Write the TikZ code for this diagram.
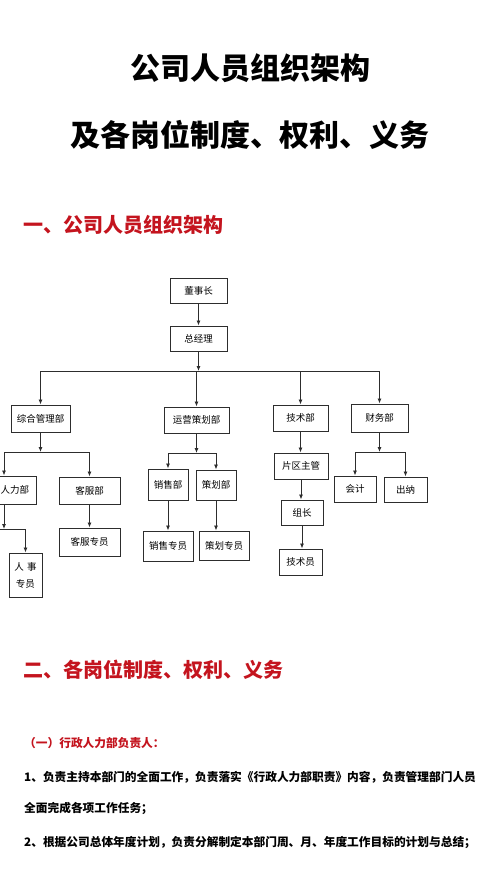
\documentclass[tikz,border=0pt]{standalone}
\usepackage{fontspec}
\setmainfont{Noto Sans CJK SC}
\usepackage{xcolor}
\usetikzlibrary{positioning,arrows.meta}
\definecolor{headred}{RGB}{196,20,30}
\definecolor{linegray}{RGB}{45,45,45}

\begin{document}
\begin{tikzpicture}[
    x=1pt, y=-1pt,
    orgbox/.style={draw=linegray, line width=1pt, fill=white, inner sep=0pt,
                   align=center, font=\fontsize{9.5}{17}\selectfont},
    arrow/.style={-{Latex[length=5pt,width=4pt]}, line width=0.8pt, linegray},
    link/.style={line width=0.8pt, linegray},
    title/.style={font=\fontsize{30}{36}\selectfont\bfseries},
    heading/.style={anchor=west, inner sep=0pt, text=headred,
                    font=\fontsize{20}{24}\selectfont\bfseries},
    bodyline/.style={anchor=west, inner sep=0pt,
                     font=\fontsize{11.7}{14}\selectfont\bfseries}
]
    \fill[white] (0,0) rectangle (500,889);
    \useasboundingbox (0,0) rectangle (500,889);

    \node[title] (title1) at (250,68) {公司人员组织架构};
    \node[title] (title2) at (250,135) {及各岗位制度、权利、义务};
    \node[heading] (sec1) at (23,225) {一、公司人员组织架构};

    % organisation chart
    \node[orgbox, minimum width=57pt, minimum height=25pt] (chair) at (198.5,290.5) {董事长};
    \node[orgbox, minimum width=57pt, minimum height=25pt, below=22pt of chair] (gm) {总经理};

    \node[orgbox, minimum width=59pt, minimum height=27pt] (zh) at (40.5,418.5) {综合管理部};
    \node[orgbox, minimum width=65pt, minimum height=26pt] (yy) at (196.5,420) {运营策划部};
    \node[orgbox, minimum width=55pt, minimum height=26pt] (tech) at (300.5,418) {技术部};
    \node[orgbox, minimum width=57pt, minimum height=28pt] (fin) at (379.5,418) {财务部};

    \node[orgbox, minimum width=42pt, minimum height=28pt] (hr) at (15,490) {人力部};
    \node[orgbox, minimum width=61pt, minimum height=27pt] (kf) at (89.5,490.5) {客服部};
    \node[orgbox, minimum width=61pt, minimum height=28pt] (kfzy) at (89.5,542) {客服专员};
    \node[orgbox, minimum width=33pt, minimum height=44pt] (rs) at (25.5,575) {人\,\,事\\专员};

    \node[orgbox, minimum width=40pt, minimum height=31pt] (xs) at (168,484.5) {销售部};
    \node[orgbox, minimum width=40pt, minimum height=30pt] (ch) at (216,485) {策划部};
    \node[orgbox, minimum width=50pt, minimum height=30pt] (xszy) at (168,546) {销售专员};
    \node[orgbox, minimum width=50pt, minimum height=29pt] (chzy) at (224,545.5) {策划专员};

    \node[orgbox, minimum width=54pt, minimum height=26pt] (pq) at (301,466) {片区主管};
    \node[orgbox, minimum width=42pt, minimum height=25pt] (zz) at (302,512.5) {组长};
    \node[orgbox, minimum width=43pt, minimum height=26pt] (jsy) at (300.5,562) {技术员};

    \node[orgbox, minimum width=42pt, minimum height=26pt] (kj) at (355,489) {会计};
    \node[orgbox, minimum width=43pt, minimum height=25pt] (cn) at (405.5,489.5) {出纳};

    \coordinate (bus0) at (0,371);
    \coordinate (bus1) at (0,452);
    \coordinate (bus2) at (0,453);
    \coordinate (bus3) at (0,452);
    \coordinate (hrin) at (4,452);
    \coordinate (hrbend) at (4,529);
    \coordinate (hrleft) at (-20,529);

    \draw[arrow] (chair) -- (gm);
    \draw[arrow] (gm.south) -- (gm.south |- bus0);
    \draw[link] (bus0 -| zh) -- (bus0 -| fin);
    \foreach \dept in {zh,yy,tech,fin}
        \draw[arrow] (bus0 -| \dept) -- (\dept.north);

    \draw[arrow] (zh.south) -- (zh.south |- bus1);
    \draw[link] (hrin) -- (bus1 -| kf);
    \draw[arrow] (hrin) -- (hrin |- hr.north);
    \draw[arrow] (bus1 -| kf) -- (kf.north);
    \draw[arrow] (kf) -- (kfzy);
    \draw[arrow] (hrin |- hr.south) -- (hrbend);
    \draw[link] (hrleft) -- (hrbend -| rs);
    \draw[arrow] (hrbend -| rs) -- (rs.north);

    \draw[arrow] (yy.south) -- (yy.south |- bus2);
    \draw[link] (bus2 -| xs) -- (bus2 -| ch);
    \draw[arrow] (bus2 -| xs) -- (xs.north);
    \draw[arrow] (bus2 -| ch) -- (ch.north);
    \draw[arrow] (xs) -- (xszy);
    \draw[arrow] (ch.south) -- (ch.south |- chzy.north);

    \draw[arrow] (tech.south) -- (tech.south |- pq.north);
    \draw[arrow] (pq.south) -- (pq.south |- zz.north);
    \draw[arrow] (zz.south) -- (zz.south |- jsy.north);

    \draw[arrow] (fin.south) -- (fin.south |- bus3);
    \draw[link] (bus3 -| kj) -- (bus3 -| cn);
    \draw[arrow] (bus3 -| kj) -- (kj.north);
    \draw[arrow] (bus3 -| cn) -- (cn.north);

    % duties
    \node[heading] (sec2) at (23,670) {二、各岗位制度、权利、义务};
    \node[bodyline, text=headred] (sub1) at (24,743) {（一）行政人力部负责人：};
    \node[bodyline] (duty1a) at (24,777) {1、负责主持本部门的全面工作，负责落实《行政人力部职责》内容，负责管理部门人员};
    \node[bodyline] (duty1b) at (24,808) {全面完成各项工作任务；};
    \node[bodyline] (duty2) at (24,842) {2、根据公司总体年度计划，负责分解制定本部门周、月、年度工作目标的计划与总结；};
\end{tikzpicture}
\end{document}
